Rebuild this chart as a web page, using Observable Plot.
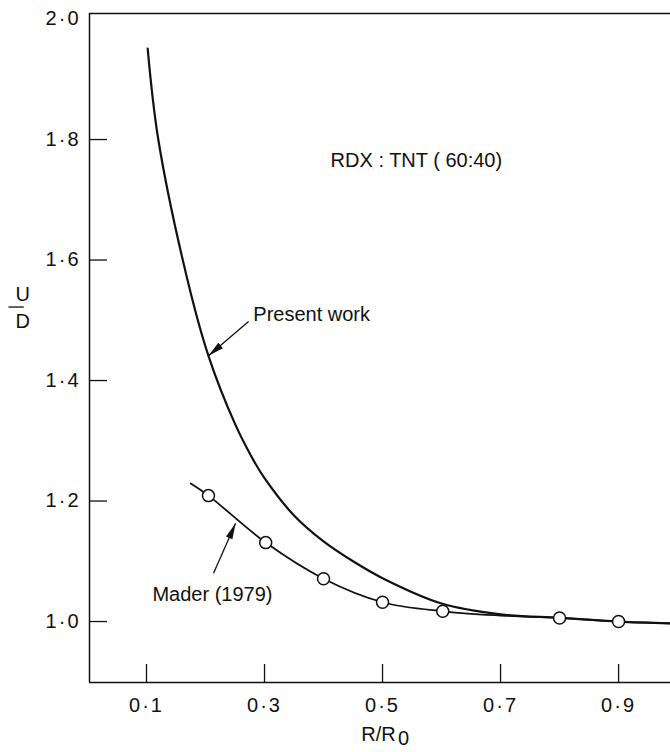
<!DOCTYPE html>
<html><head><meta charset="utf-8">
<script src="https://cdn.jsdelivr.net/npm/d3@7"></script>
<script src="https://cdn.jsdelivr.net/npm/@observablehq/plot@0.6"></script>
<style>
body{margin:0;background:#fff}
#chart svg text{font-family:"Liberation Sans", Arial, sans-serif}
#chart g[aria-label="y-axis tick label"] text,
#chart g[aria-label="x-axis tick label"] text{letter-spacing:2px}
</style></head><body><div id="chart"></div>
<script>
// "Present work" curve
const presentX = [0.102, 0.12, 0.169, 0.205, 0.25, 0.28, 0.30, 0.35, 0.40, 0.45, 0.50, 0.6, 0.7, 0.8, 0.9, 0.99];
const presentY = [1.951, 1.80, 1.569, 1.441, 1.328, 1.270, 1.238, 1.176, 1.133, 1.100, 1.072, 1.030, 1.012, 1.006, 1.0, 0.997];
// Mader (1979) curve
const maderLineX = [0.175, 0.205, 0.302, 0.40, 0.50, 0.602, 0.70, 0.80, 0.90, 0.99];
const maderLineY = [1.229, 1.209, 1.131, 1.071, 1.032, 1.017, 1.010, 1.006, 1.0, 0.997];
// Mader (1979) data points
const maderPtsX = [0.205, 0.302, 0.40, 0.50, 0.602, 0.80, 0.90];
const maderPtsY = [1.209, 1.131, 1.071, 1.032, 1.017, 1.006, 1.0];
// ticks
const xTicks = [0.1, 0.3, 0.5, 0.7, 0.9];
const xTickLabels = ["0·1", "0·3", "0·5", "0·7", "0·9"];
const yTicks = [1.0, 1.2, 1.4, 1.6, 1.8, 2.0];
const yTickLabels = ["1·0", "1·2", "1·4", "1·6", "1·8", "2·0"];
const yTickMarks = [1.0, 1.2, 1.4, 1.6, 1.8];
// annotations
const labelTexts = ["RDX : TNT ( 60:40)", "Present work", "Mader (1979)"];
const labelX = [0.412, 0.281, 0.110];
const labelY = [1.765, 1.51, 1.045];
const arrowX1 = [0.273, 0.2136];
const arrowY1 = [1.498, 1.080];
const arrowX2 = [0.205, 0.251];
const arrowY2 = [1.441, 1.163];
const arrowRotate = [-130.4, 23.7];
// y-axis label (stacked fraction U over D)
const yLabelTop = ["U"];
const yLabelBottom = ["D"];
const yLabelBar = [{y: 1.522, x1: -0.134, x2: -0.108}];

const xDomain = [0.0034, 0.988];
const yDomain = [0.8988, 2.0092];

const present = presentX.map((x, i) => ({x, y: presentY[i]}));
const maderLine = maderLineX.map((x, i) => ({x, y: maderLineY[i]}));
const maderPts = maderPtsX.map((x, i) => ({x, y: maderPtsY[i]}));
const labels = labelTexts.map((t, i) => ({t, x: labelX[i], y: labelY[i]}));
const arrows = arrowX1.map((x1, i) => ({x1, y1: arrowY1[i], x2: arrowX2[i], y2: arrowY2[i], r: arrowRotate[i]}));

const head = {
  draw(ctx, size) {
    const L = Math.sqrt(size) * 1.5, w = L * 0.22;
    ctx.moveTo(0, 0); ctx.lineTo(w, L); ctx.lineTo(-w, L); ctx.closePath();
  }
};

const fmtX = d => xTickLabels[xTicks.indexOf(d)];
const fmtY = d => yTickLabels[yTicks.indexOf(d)];

const chart = Plot.plot({
  width: 670, height: 752,
  marginLeft: 89, marginRight: 0, marginTop: 13, marginBottom: 70,
  style: {fontSize: "20px", color: "#111", background: "#fff"},
  x: {domain: xDomain, axis: null},
  y: {domain: yDomain, axis: null},
  marks: [
    Plot.ruleX([xDomain[0]], {stroke: "#111", strokeWidth: 1.5}),
    Plot.ruleY([yDomain[0], yDomain[1]], {stroke: "#111", strokeWidth: 1.5}),
    Plot.axisY({ticks: yTickMarks, tickSize: -18, tickFormat: () => "", strokeWidth: 1.3}),
    Plot.axisY({ticks: yTicks, tickSize: 0, tickPadding: 9, tickFormat: fmtY, fontSize: 20}),
    Plot.axisX({ticks: xTicks, tickSize: -18, tickFormat: () => "", strokeWidth: 1.3}),
    Plot.axisX({ticks: xTicks, tickSize: 0, tickPadding: 15, tickFormat: fmtX, fontSize: 20}),
    Plot.line(present, {x: "x", y: "y", curve: "catmull-rom", stroke: "#111", strokeWidth: 2.2}),
    Plot.line(maderLine, {x: "x", y: "y", curve: "catmull-rom", stroke: "#111", strokeWidth: 1.8}),
    Plot.dot(maderPts, {x: "x", y: "y", r: 6, fill: "#fff", stroke: "#111", strokeWidth: 1.5}),
    Plot.text(labels, {x: "x", y: "y", text: "t", textAnchor: "start", fontSize: 20, fill: "#111"}),
    Plot.link(arrows, {x1: "x1", y1: "y1", x2: "x2", y2: "y2", stroke: "#111", strokeWidth: 1.3}),
    Plot.dot(arrows, {x: "x2", y: "y2", symbol: head, r: 6, rotate: "r", fill: "#111", stroke: "none"}),
    // y-axis label U/D as a stacked fraction
    Plot.text(yLabelTop, {frameAnchor: "left", y: 1.543, dx: -74, text: d => d, fontSize: 20, fill: "#111"}),
    Plot.text(yLabelBottom, {frameAnchor: "left", y: 1.498, dx: -74, text: d => d, fontSize: 20, fill: "#111"}),
    Plot.link(yLabelBar, {x1: "x1", x2: "x2", y1: "y", y2: "y", stroke: "#111", strokeWidth: 1.3}),
    // x-axis label R/R0
    Plot.text(["R/R"], {frameAnchor: "bottom", x: 0.5, dy: 58, dx: -4, text: d => d, fontSize: 20, fill: "#111"}),
    Plot.text(["0"], {frameAnchor: "bottom", x: 0.5, dy: 62, dx: 21, text: d => d, fontSize: 20, fill: "#111"})
  ]
});
document.getElementById("chart").appendChild(chart);
</script>
</body></html>
